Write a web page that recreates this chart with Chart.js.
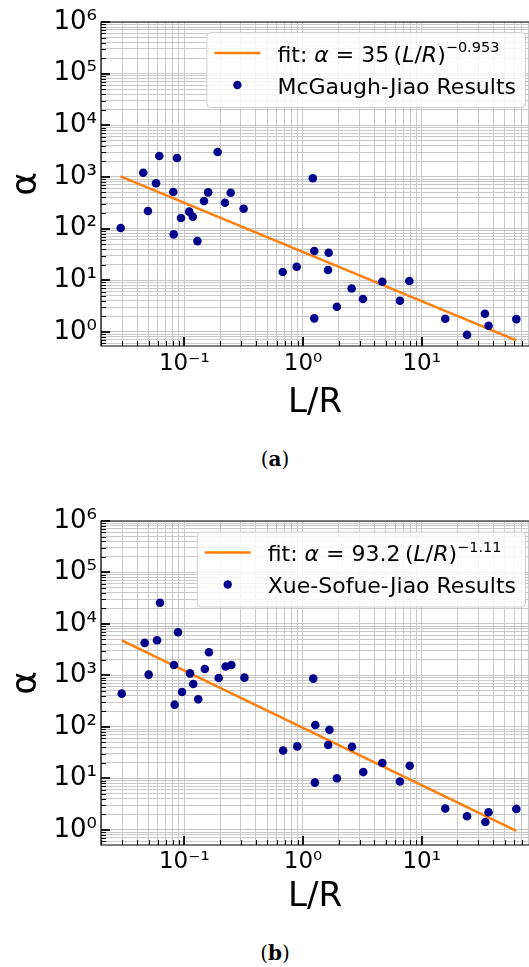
<!DOCTYPE html>
<html><head><meta charset="utf-8">
<script src="https://cdn.jsdelivr.net/npm/chart.js@4.4.1/dist/chart.umd.min.js"></script>
<style>
html,body{margin:0;padding:0;background:#fff;width:529px;height:967px;overflow:hidden;}
.c{position:absolute;left:0;width:529px;height:430px;}
.cap{position:absolute;font-family:"DejaVu Serif",serif;font-size:20px;line-height:20px;color:#000;width:100px;text-align:center;}
</style></head><body>
<div class="c" style="top:0;"><canvas id="ca" width="529" height="430"></canvas></div>
<div class="c" style="top:490px;"><canvas id="cb" width="529" height="430"></canvas></div>
<div class="cap" style="left:225px;top:449px;">(<b>a</b>)</div>
<div class="cap" style="left:225px;top:943px;">(<b>b</b>)</div>
<script>
// ---- data: panel (a) McGaugh-Jiao ----
const xA = [0.0291,0.0451,0.0615,0.0868,0.0578,0.0807,0.0494,0.191,0.159,0.246,0.1466,0.220,0.316,0.110,0.118,0.0938,1.21,0.0814,0.129,1.245,1.645,1.625,0.675,0.885,4.66,7.87,2.57,3.2,6.56,1.93,1.245,15.8,34.1,36.6,24.1,62.7];
const yA = [102,1200,2540,2325,752,510,218,3040,502,494,341,316,242,212,169,160,940,77,57,36.6,34,15.7,14.4,18.2,9.3,9.6,6.9,4.3,4.0,3.05,1.82,1.79,2.23,1.31,0.875,1.76];
const fitAx = [0.029, 62.7];
const fitAy = [1022, 0.68];
// ---- data: panel (b) Xue-Sofue-Jiao ----
const xB = [0.0297,0.0464,0.0589,0.0624,0.0885,0.0501,0.0819,0.1614,0.149,0.223,0.249,0.1117,0.195,0.321,0.119,0.0957,0.131,0.083,1.22,1.27,1.67,1.63,0.68,0.895,2.59,4.66,7.93,3.22,6.56,1.93,1.26,15.8,24.1,34.4,36.6,62.7];
const yB = [444,4300,4830,25800,6920,1040,1600,2820,1340,1490,1600,1100,896,908,684,478,344,271,869,109,88,44.5,35,41.9,41.2,19.9,17.6,13.3,8.7,10.1,8.3,2.6,1.85,1.43,2.21,2.56];
const fitBx = [0.0297, 62.7];
const fitBy = [4800, 0.96];
// ---- ticks ----
const xMajor = [0.1, 1, 10];
const xTickLabels = ['10\u207B\u00B9', '10\u2070', '10\u00B9'];
const yMajor = [1, 10, 100, 1000, 10000, 100000, 1000000];
const yTickLabels = ['10\u2070', '10\u00B9', '10\u00B2', '10\u00B3', '10\u2074', '10\u2075', '10\u2076'];
// ---- labels ----
const xTitle = 'L/R';
const yTitle = '\u03B1';
const fitLabelA = [{t:'fit: '},{t:'\u03B1',it:1},{t:' = 35\u2009('},{t:'L',it:1},{t:'/'},{t:'R',it:1},{t:')'},{t:'\u22120.953',sup:1}];
const ptsLabelA = [{t:'McGaugh-Jiao Results'}];
const fitLabelB = [{t:'fit: '},{t:'\u03B1',it:1},{t:' = 93.2\u2009('},{t:'L',it:1},{t:'/'},{t:'R',it:1},{t:')'},{t:'\u22121.11',sup:1}];
const ptsLabelB = [{t:'Xue-Sofue-Jiao Results'}];

const FONT = '"DejaVu Sans", sans-serif';
const ORANGE = '#ff7f0e';
const NAVY = '#00008b';

function segText(segs){ return segs.map(s=>s.t).join(''); }
function isMajor(v){ const l=Math.log10(v); return Math.abs(l-Math.round(l))<1e-9; }
function decadeTicks(min,max){
  const out=[];
  for(let e=Math.floor(Math.log10(min)); e<=Math.ceil(Math.log10(max)); e++){
    for(let m=1;m<=9;m++){
      const v=parseFloat((m*Math.pow(10,e)).toPrecision(8));
      if(v>=min*0.99999 && v<=max*1.00001) out.push({value:v});
    }
  }
  return out;
}
function labelFor(majors, labels){
  return function(value){
    const i = majors.findIndex(m=>Math.abs(m-value)/m<1e-6);
    return i>=0 ? labels[i] : '';
  };
}
function drawRich(ctx, segs, x, y, size){
  let cx=x;
  for(const s of segs){
    const fs = s.sup ? size*0.66 : size;
    ctx.font = (s.it?'italic ':'') + fs + 'px ' + FONT;
    const dy = s.sup ? -size*0.42 : 0;
    ctx.fillText(s.t, cx, y+dy);
    cx += ctx.measureText(s.t).width;
  }
  return cx-x;
}
function richWidth(ctx, segs, size){
  let w=0;
  for(const s of segs){
    const fs = s.sup ? size*0.66 : size;
    ctx.font = (s.it?'italic ':'') + fs + 'px ' + FONT;
    w += ctx.measureText(s.t).width;
  }
  return w;
}
function roundRect(ctx,x,y,w,h,r){
  ctx.beginPath();
  ctx.moveTo(x+r,y); ctx.lineTo(x+w-r,y); ctx.quadraticCurveTo(x+w,y,x+w,y+r);
  ctx.lineTo(x+w,y+h-r); ctx.quadraticCurveTo(x+w,y+h,x+w-r,y+h);
  ctx.lineTo(x+r,y+h); ctx.quadraticCurveTo(x,y+h,x,y+h-r);
  ctx.lineTo(x,y+r); ctx.quadraticCurveTo(x,y,x+r,y); ctx.closePath();
}

const framePlugin = {
  id:'frame',
  afterDraw(chart){
    const ctx=chart.ctx, a=chart.chartArea, xs=chart.scales.x, ys=chart.scales.y;
    ctx.save();
    // inward ticks
    ctx.strokeStyle='#000';
    for(const t of ys.ticks){
      const p=Math.round(ys.getPixelForValue(t.value));
      const maj=isMajor(t.value);
      ctx.lineWidth = maj?1.8:1;
      const L = maj?9:5;
      ctx.beginPath(); ctx.moveTo(a.left, p+(maj?0:0.5)); ctx.lineTo(a.left+L, p+(maj?0:0.5)); ctx.stroke();
    }
    for(const t of xs.ticks){
      const p=Math.round(xs.getPixelForValue(t.value));
      const maj=isMajor(t.value);
      ctx.lineWidth = maj?1.8:1;
      const L = maj?9:5;
      ctx.beginPath(); ctx.moveTo(p+(maj?0:0.5), a.bottom); ctx.lineTo(p+(maj?0:0.5), a.bottom-L); ctx.stroke();
    }
    // spines
    ctx.lineWidth=1.2;
    ctx.beginPath();
    ctx.moveTo(a.right+1, a.top); ctx.lineTo(a.left, a.top); ctx.lineTo(a.left, a.bottom); ctx.lineTo(a.right+1, a.bottom);
    ctx.stroke();
    // legend
    const lg = chart.options.plugins.frame;
    const size = 22;
    const textOff = 71, padR = 9;
    const w = textOff + Math.max(...lg.items.map(it=>richWidth(ctx,it.segs,size))) + padR;
    const bx = a.right - 4 - w, by = a.top + lg.dy, bh = 75;
    roundRect(ctx, bx+0.5, by+0.5, w, bh, 4);
    ctx.fillStyle='rgba(255,255,255,0.82)'; ctx.fill();
    ctx.strokeStyle='#d0d0d0'; ctx.lineWidth=1; ctx.stroke();
    ctx.textBaseline='alphabetic'; ctx.textAlign='left';
    lg.items.forEach((it,i)=>{
      const cy = by + 21 + i*32;
      if(it.kind==='line'){
        ctx.strokeStyle=ORANGE; ctx.lineWidth=2.6;
        ctx.beginPath(); ctx.moveTo(bx+8, cy); ctx.lineTo(bx+54, cy); ctx.stroke();
      } else {
        ctx.fillStyle=NAVY; ctx.beginPath(); ctx.arc(bx+31, cy, 4.2, 0, Math.PI*2); ctx.fill();
      }
      ctx.fillStyle='#000';
      drawRich(ctx, it.segs, bx+textOff, cy+8.5, size);
    });
    ctx.restore();
  }
};

function makeChart(id, xs, ys, fx, fy, fitSegs, ptsSegs, cfg){
  const pts = xs.map((x,i)=>({x:x, y:ys[i]}));
  const fit = fx.map((x,i)=>({x:x, y:fy[i]}));
  const xMin=0.01987, xMax=80.2;
  return new Chart(document.getElementById(id), {
    type:'scatter',
    data:{datasets:[
      {label:segText(ptsSegs), data:pts, backgroundColor:NAVY, borderWidth:0, pointRadius:4.3, pointHoverRadius:4.3, order:0},
      {type:'line', label:segText(fitSegs), data:fit, borderColor:ORANGE, borderWidth:2.6, pointRadius:0, showLine:true, fill:false, order:1}
    ]},
    options:{
      responsive:false, animation:false, devicePixelRatio:1,
      layout:{autoPadding:false, padding:{left:0, right:0, top:cfg.top, bottom:0}},
      plugins:{legend:{display:false}, tooltip:{enabled:false},
        frame:{dy:cfg.ldy, items:[{kind:'line', segs:fitSegs},{kind:'dot', segs:ptsSegs}]}},
      scales:{
        x:{type:'logarithmic', min:xMin, max:xMax, bounds:'data',
          afterBuildTicks:(s)=>{ s.ticks=decadeTicks(xMin,xMax); },
          afterFit:(s)=>{ s.height = 430 - cfg.bottom; s.paddingLeft = 0; s.paddingRight = 0; },
          grid:{color:'#c8c8c8', lineWidth:1, drawTicks:false},
          border:{display:false},
          ticks:{autoSkip:false, maxRotation:0, padding:cfg.xpad, color:'#000', font:{family:FONT, size:23}, callback:labelFor(xMajor,xTickLabels)},
          title:{display:true, text:xTitle, color:'#000', font:{family:FONT, size:34, lineHeight:1}, padding:{top:0, bottom:cfg.xtpad}}
        },
        y:{type:'logarithmic', min:cfg.ymin, max:1e6, bounds:'data',
          afterBuildTicks:(s)=>{ s.ticks=decadeTicks(cfg.ymin,1e6); },
          afterFit:(s)=>{ s.width = 101; s.paddingTop = 0; s.paddingBottom = 0; },
          grid:{color:'#c8c8c8', lineWidth:1, drawTicks:false},
          border:{display:false},
          ticks:{autoSkip:false, padding:4, color:'#000', font:{family:FONT, size:26}, callback:labelFor(yMajor,yTickLabels)},
          title:{display:true, text:yTitle, color:'#000', font:{family:FONT, size:36, lineHeight:1}, padding:{top:9, bottom:0}}
        }
      }
    },
    plugins:[framePlugin]
  });
}

makeChart('ca', xA, yA, fitAx, fitAy, fitLabelA, ptsLabelA, {top:22, bottom:346, ymin:0.53, xpad:4, xtpad:10, ldy:10});
makeChart('cb', xB, yB, fitBx, fitBy, fitLabelB, ptsLabelB, {top:31, bottom:355, ymin:0.51, xpad:3, xtpad:6, ldy:10.5});
</script>
</body></html>
